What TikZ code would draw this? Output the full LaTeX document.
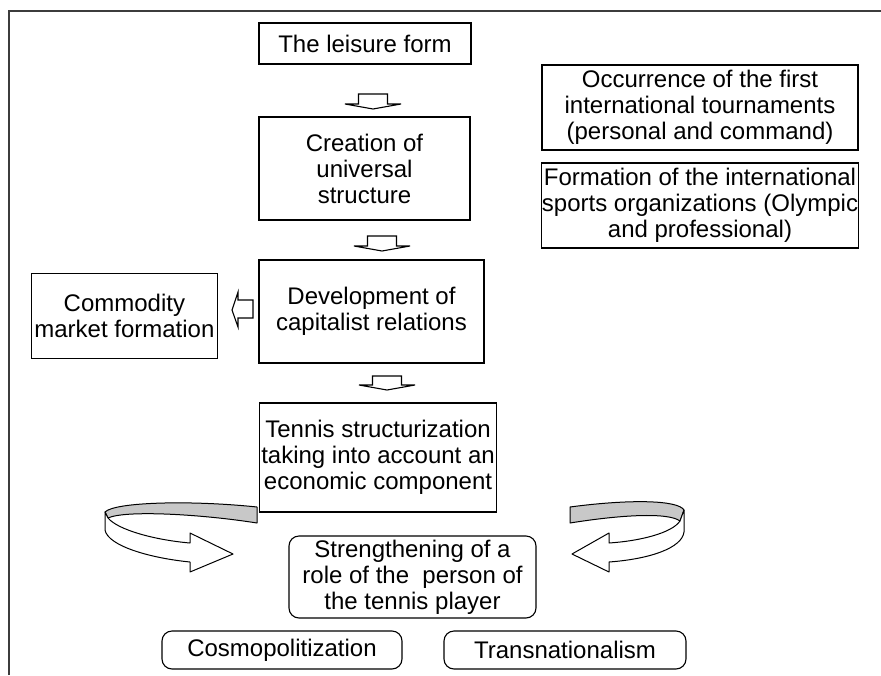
\documentclass[tikz,border=0pt]{standalone}
\usepackage{fontspec}
\setmainfont{Liberation Sans}
\usepackage{tikz}
\usetikzlibrary{positioning, calc}
\definecolor{ribbongray}{RGB}{200, 200, 200}
\definecolor{framegray}{RGB}{60, 60, 60}

\tikzset{
    stagebox/.style={draw, line width=1.1pt, align=center, inner sep=3pt,
        font=\fontsize{24}{26}\selectfont},
    roundbox/.style={stagebox, rounded corners=10pt},
    blockarrow/.style={draw, fill=white, line width=1.1pt},
    ribbon/.style={draw, line width=1pt, line join=round},
}

\begin{document}
\begin{tikzpicture}[x=1pt, y=-1pt]
    \useasboundingbox (0,0) rectangle (881,675);

    % Frame of the page
    \draw[framegray, line width=1.5pt] (9,675) -- (9,11) -- (881,11);

    % Main column
    \node[stagebox, minimum width=212pt, minimum height=41pt] (leisure) at (365,43.5) {The leisure form};
    \node[stagebox, minimum width=211pt, minimum height=103pt] (creation) at (364.5,168.5) {Creation of\\universal\\structure};
    \node[stagebox, minimum width=225pt, minimum height=103pt] (develop) at (371.5,311.5) {Development of\\capitalist relations};
    \node[stagebox, minimum height=85pt, anchor=north east] (commodity) at (218,273) {Commodity\\market formation};
    \node[stagebox, inner xsep=0pt, minimum width=237pt, minimum height=109pt, anchor=west] (tennis) at (259,457.5) {Tennis structurization\\taking into account an\\economic component};

    % Right column
    \node[stagebox, inner sep=0pt, minimum width=316pt, minimum height=85pt] (occurrence) at (700,107.5) {Occurrence of the first\\international tournaments\\(personal and command)};
    \node[stagebox, inner sep=0pt, minimum width=316pt, minimum height=85pt] (formation) at (700,205.5) {Formation of the international\\sports organizations (Olympic\\and professional)};

    % Bottom part
    \node[roundbox, minimum width=247pt, minimum height=82pt] (strength) at (412.5,577) {Strengthening of a\\role of the\ \ person of\\the tennis player};
    \node[roundbox, minimum width=240pt, minimum height=38pt] (cosmo) at (282,650) {Cosmopolitization};
    \node[roundbox, minimum width=242pt, minimum height=38pt] (trans) at (565,650) {Transnationalism};

    % Block arrows between the stages
    \coordinate (arr1) at (373,94);
    \coordinate (arr2) at (382,236);
    \coordinate (arr3) at (387,376);
    \coordinate (arr4) at (253,300);
    \draw[blockarrow] (arr1) ++(-14.5,0) -- ++(29,0) -- ++(0,10) -- ++(13.5,0) -- ++(-28,5) -- ++(-28,-5) -- ++(13.5,0) -- cycle;
    \draw[blockarrow] (arr2) ++(-14.5,0) -- ++(29,0) -- ++(0,10) -- ++(13.5,0) -- ++(-28,5) -- ++(-28,-5) -- ++(13.5,0) -- cycle;
    \draw[blockarrow] (arr3) ++(-14.5,0) -- ++(29,0) -- ++(0,9) -- ++(13.5,0) -- ++(-28,5) -- ++(-28,-5) -- ++(13.5,0) -- cycle;
    \draw[blockarrow] (arr4) -- ++(0,18) -- ++(-15,0) -- ++(0,9) -- ++(-6,-17) -- ++(6,-18) -- ++(0,8) -- cycle;

    % Left twisted arrow
    \filldraw[ribbon, fill=ribbongray] (257,507) .. controls (190,500) and (115,502) .. (105,512)
        -- (108,518) .. controls (125,510) and (200,514) .. (257,523) -- cycle;
    \filldraw[ribbon, fill=white] (105,512) -- (105,530) .. controls (108,546) and (150,558) .. (190,562)
        -- (190,572) -- (233,554) -- (190,533) -- (190,543)
        .. controls (155,540) and (118,530) .. (108,518) -- cycle;

    % Right twisted arrow
    \filldraw[ribbon, fill=ribbongray] (570,507) .. controls (630,499) and (678,500) .. (684,510)
        -- (680,521) .. controls (668,512) and (620,515) .. (570,523) -- cycle;
    \filldraw[ribbon, fill=white] (684,510) -- (684,532) .. controls (682,548) and (650,559) .. (609,562)
        -- (609,572) -- (572,554) -- (609,533) -- (609,543)
        .. controls (640,541) and (672,533) .. (680,521) -- cycle;
\end{tikzpicture}
\end{document}
